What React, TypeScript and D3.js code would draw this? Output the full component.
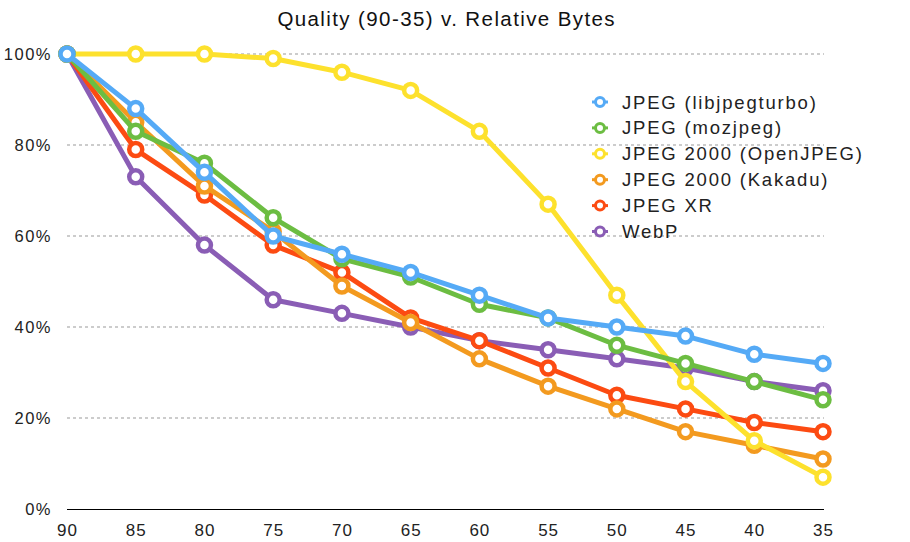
import React from "react";
import * as d3 from "d3";

const qualities = [90, 85, 80, 75, 70, 65, 60, 55, 50, 45, 40, 35];
const yTicks = [0, 20, 40, 60, 80, 100];
const seriesNames = ["JPEG (libjpegturbo)", "JPEG (mozjpeg)", "JPEG 2000 (OpenJPEG)", "JPEG 2000 (Kakadu)", "JPEG XR", "WebP"];
const seriesColors = ["#55aaf6", "#6cbd42", "#fde12d", "#f39a1f", "#fc4b12", "#8a5db5"];
const libjpegturbo = [100, 88, 74, 60, 56, 52, 47, 42, 40, 38, 34, 32];
const mozjpeg = [100, 83, 76, 64, 55, 51, 45, 42, 36, 32, 28, 24];
const openjpeg = [100, 100, 100, 99, 96, 92, 83, 67, 47, 28, 15, 7];
const kakadu = [100, 85, 71, 61, 49, 41, 33, 27, 22, 17, 14, 11];
const jpegxr = [100, 79, 69, 58, 52, 42, 37, 31, 25, 22, 19, 17];
const webp = [100, 73, 58, 46, 43, 40, 37, 35, 33, 31, 28, 26];
const seriesValues = [libjpegturbo, mozjpeg, openjpeg, kakadu, jpegxr, webp];

const W = 910, H = 542;
const x = d3.scalePoint<number>().domain(qualities).range([67, 823]);
const y = d3.scaleLinear().domain([0, 100]).range([509, 54]);
const font = "'Liberation Sans', Arial, sans-serif";

export default function App() {
  const line = d3.line<number>().x((_, i) => x(qualities[i])!).y((d) => y(d));
  const order = [5, 4, 3, 2, 1, 0];
  return (
    <svg width={W} height={H} style={{ position: "absolute", left: 0, top: 0, background: "#fff" }}>
      <text x={446.7} y={26} textAnchor="middle" fontFamily={font} fontSize={20.5} letterSpacing={1.4} fill="#111">
        Quality (90-35) v. Relative Bytes
      </text>
      {yTicks.map((t) => (
        <g key={t}>
          {t > 0 && (
            <line x1={67} x2={824} y1={y(t)} y2={y(t)} stroke="#999" strokeWidth={1} strokeDasharray="3,3" />
          )}
          <text x={52} y={y(t) + 6} textAnchor="end" fontFamily={font} fontSize={16.5} letterSpacing={1.5} fill="#222">
            {t}%
          </text>
        </g>
      ))}
      <line x1={67} x2={824} y1={509.5} y2={509.5} stroke="#000" strokeWidth={1} />
      {qualities.map((q) => (
        <text key={q} x={x(q)! + 0.5} y={536} textAnchor="middle" fontFamily={font} fontSize={17} letterSpacing={1} fill="#222">
          {q}
        </text>
      ))}
      {order.map((si) => (
        <g key={si}>
          <path d={line(seriesValues[si]) || ""} fill="none" stroke={seriesColors[si]} strokeWidth={5} strokeLinejoin="round" />
          {seriesValues[si].map((v, i) => (
            <circle key={i} cx={x(qualities[i])} cy={y(v)} r={6.5} fill="#fff" stroke={seriesColors[si]} strokeWidth={4.5} />
          ))}
        </g>
      ))}
      {seriesNames.map((n, i) => (
        <g key={n} transform={`translate(600, ${102 + i * 25.9})`}>
          <line x1={-8} x2={8} y1={0} y2={0} stroke={seriesColors[i]} strokeWidth={3} />
          <circle cx={0} cy={0} r={4.5} fill="#fff" stroke={seriesColors[i]} strokeWidth={3} />
          <text x={22} y={6.5} fontFamily={font} fontSize={18.5} letterSpacing={1.8} fill="#222">
            {n}
          </text>
        </g>
      ))}
    </svg>
  );
}
